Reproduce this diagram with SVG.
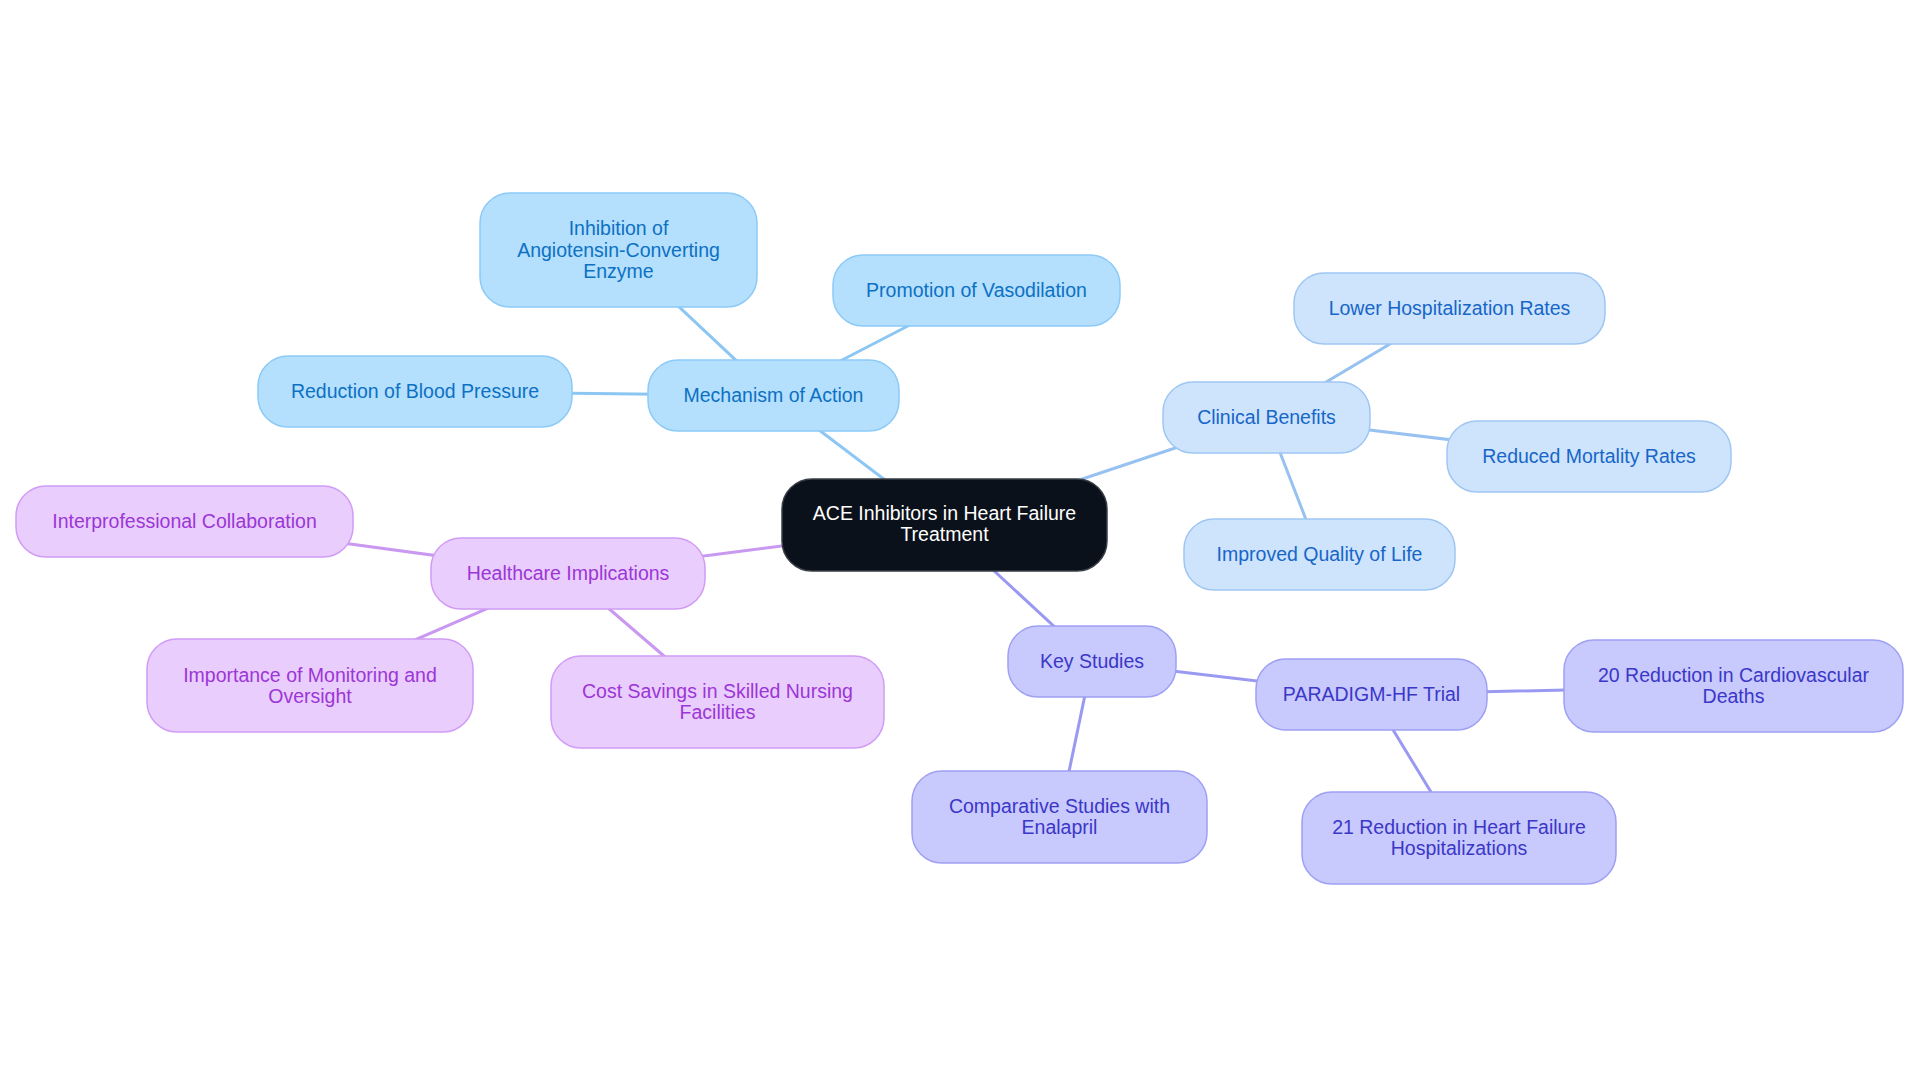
<svg xmlns="http://www.w3.org/2000/svg" width="1920" height="1083" viewBox="0 0 1920 1083">
<style>
text{font-family:"Liberation Sans",Arial,sans-serif;font-size:19.5px;text-anchor:middle}
.e{stroke-width:3;fill:none;stroke-linecap:round}
.eb{stroke:#8cc6f3}.ec{stroke:#97c1f0}.ek{stroke:#9a99f1}.eh{stroke:#c998f1}
.nb rect{fill:#b4dffd;stroke:#8ccaf7;stroke-width:1.5}.nb text{fill:#0c71c3}
.nc rect{fill:#cde4fc;stroke:#9fc6f2;stroke-width:1.5}.nc text{fill:#1766c8}
.nk rect{fill:#c8c9fd;stroke:#9fa0f4;stroke-width:1.5}.nk text{fill:#3b37c7}
.nh rect{fill:#e9cdfd;stroke:#d09cf6;stroke-width:1.5}.nh text{fill:#9c36d6}
.nr rect{fill:#0b111a;stroke:#3a3f47;stroke-width:1.5}.nr text{fill:#ffffff}
</style>
<rect width="1920" height="1083" fill="#ffffff"/>
<g id="connectors">
<line class="e eb" x1="944.5" y1="525" x2="773.5" y2="395.5"/>
<line class="e ec" x1="944.5" y1="525" x2="1266.5" y2="417.5"/>
<line class="e ek" x1="944.5" y1="525" x2="1092" y2="661.5"/>
<line class="e eh" x1="944.5" y1="525" x2="568" y2="573.5"/>
<line class="e eb" x1="773.5" y1="395.5" x2="618.5" y2="250"/>
<line class="e eb" x1="773.5" y1="395.5" x2="976.5" y2="290.5"/>
<line class="e eb" x1="773.5" y1="395.5" x2="415" y2="391.5"/>
<line class="e ec" x1="1266.5" y1="417.5" x2="1449.5" y2="308.5"/>
<line class="e ec" x1="1266.5" y1="417.5" x2="1589" y2="456.5"/>
<line class="e ec" x1="1266.5" y1="417.5" x2="1319.5" y2="554.5"/>
<line class="e eh" x1="568" y1="573.5" x2="184.5" y2="521.5"/>
<line class="e eh" x1="568" y1="573.5" x2="310" y2="685.5"/>
<line class="e eh" x1="568" y1="573.5" x2="717.5" y2="702"/>
<line class="e ek" x1="1092" y1="661.5" x2="1371.5" y2="694.5"/>
<line class="e ek" x1="1092" y1="661.5" x2="1059.5" y2="817"/>
<line class="e ek" x1="1371.5" y1="694.5" x2="1733.5" y2="686"/>
<line class="e ek" x1="1371.5" y1="694.5" x2="1459" y2="838"/>
</g>
<g id="root" class="nr"><rect x="782" y="479" width="325" height="92" rx="30"/><text x="944.5" y="520">ACE Inhibitors in Heart Failure</text><text x="944.5" y="541">Treatment</text></g>
<g id="mechanism" class="nb"><rect x="648" y="360" width="251" height="71" rx="30"/><text x="773.5" y="402">Mechanism of Action</text></g>
<g id="inhibition" class="nb"><rect x="480" y="193" width="277" height="114" rx="30"/><text x="618.5" y="235">Inhibition of</text><text x="618.5" y="256.5">Angiotensin-Converting</text><text x="618.5" y="278">Enzyme</text></g>
<g id="promotion" class="nb"><rect x="833" y="255" width="287" height="71" rx="30"/><text x="976.5" y="297">Promotion of Vasodilation</text></g>
<g id="reduction-bp" class="nb"><rect x="258" y="356" width="314" height="71" rx="30"/><text x="415" y="398">Reduction of Blood Pressure</text></g>
<g id="clinical" class="nc"><rect x="1163" y="382" width="207" height="71" rx="30"/><text x="1266.5" y="424">Clinical Benefits</text></g>
<g id="lower-hosp" class="nc"><rect x="1294" y="273" width="311" height="71" rx="30"/><text x="1449.5" y="315">Lower Hospitalization Rates</text></g>
<g id="reduced-mort" class="nc"><rect x="1447" y="421" width="284" height="71" rx="30"/><text x="1589" y="463">Reduced Mortality Rates</text></g>
<g id="improved-qol" class="nc"><rect x="1184" y="519" width="271" height="71" rx="30"/><text x="1319.5" y="561">Improved Quality of Life</text></g>
<g id="healthcare" class="nh"><rect x="431" y="538" width="274" height="71" rx="30"/><text x="568" y="580">Healthcare Implications</text></g>
<g id="interprof" class="nh"><rect x="16" y="486" width="337" height="71" rx="30"/><text x="184.5" y="528">Interprofessional Collaboration</text></g>
<g id="importance" class="nh"><rect x="147" y="639" width="326" height="93" rx="30"/><text x="310" y="682">Importance of Monitoring and</text><text x="310" y="703">Oversight</text></g>
<g id="cost" class="nh"><rect x="551" y="656" width="333" height="92" rx="30"/><text x="717.5" y="698">Cost Savings in Skilled Nursing</text><text x="717.5" y="719">Facilities</text></g>
<g id="key-studies" class="nk"><rect x="1008" y="626" width="168" height="71" rx="30"/><text x="1092" y="668">Key Studies</text></g>
<g id="paradigm" class="nk"><rect x="1256" y="659" width="231" height="71" rx="30"/><text x="1371.5" y="701">PARADIGM-HF Trial</text></g>
<g id="reduction-20" class="nk"><rect x="1564" y="640" width="339" height="92" rx="30"/><text x="1733.5" y="682">20 Reduction in Cardiovascular</text><text x="1733.5" y="703">Deaths</text></g>
<g id="reduction-21" class="nk"><rect x="1302" y="792" width="314" height="92" rx="30"/><text x="1459" y="834">21 Reduction in Heart Failure</text><text x="1459" y="855">Hospitalizations</text></g>
<g id="comparative" class="nk"><rect x="912" y="771" width="295" height="92" rx="30"/><text x="1059.5" y="813">Comparative Studies with</text><text x="1059.5" y="834">Enalapril</text></g>
</svg>
